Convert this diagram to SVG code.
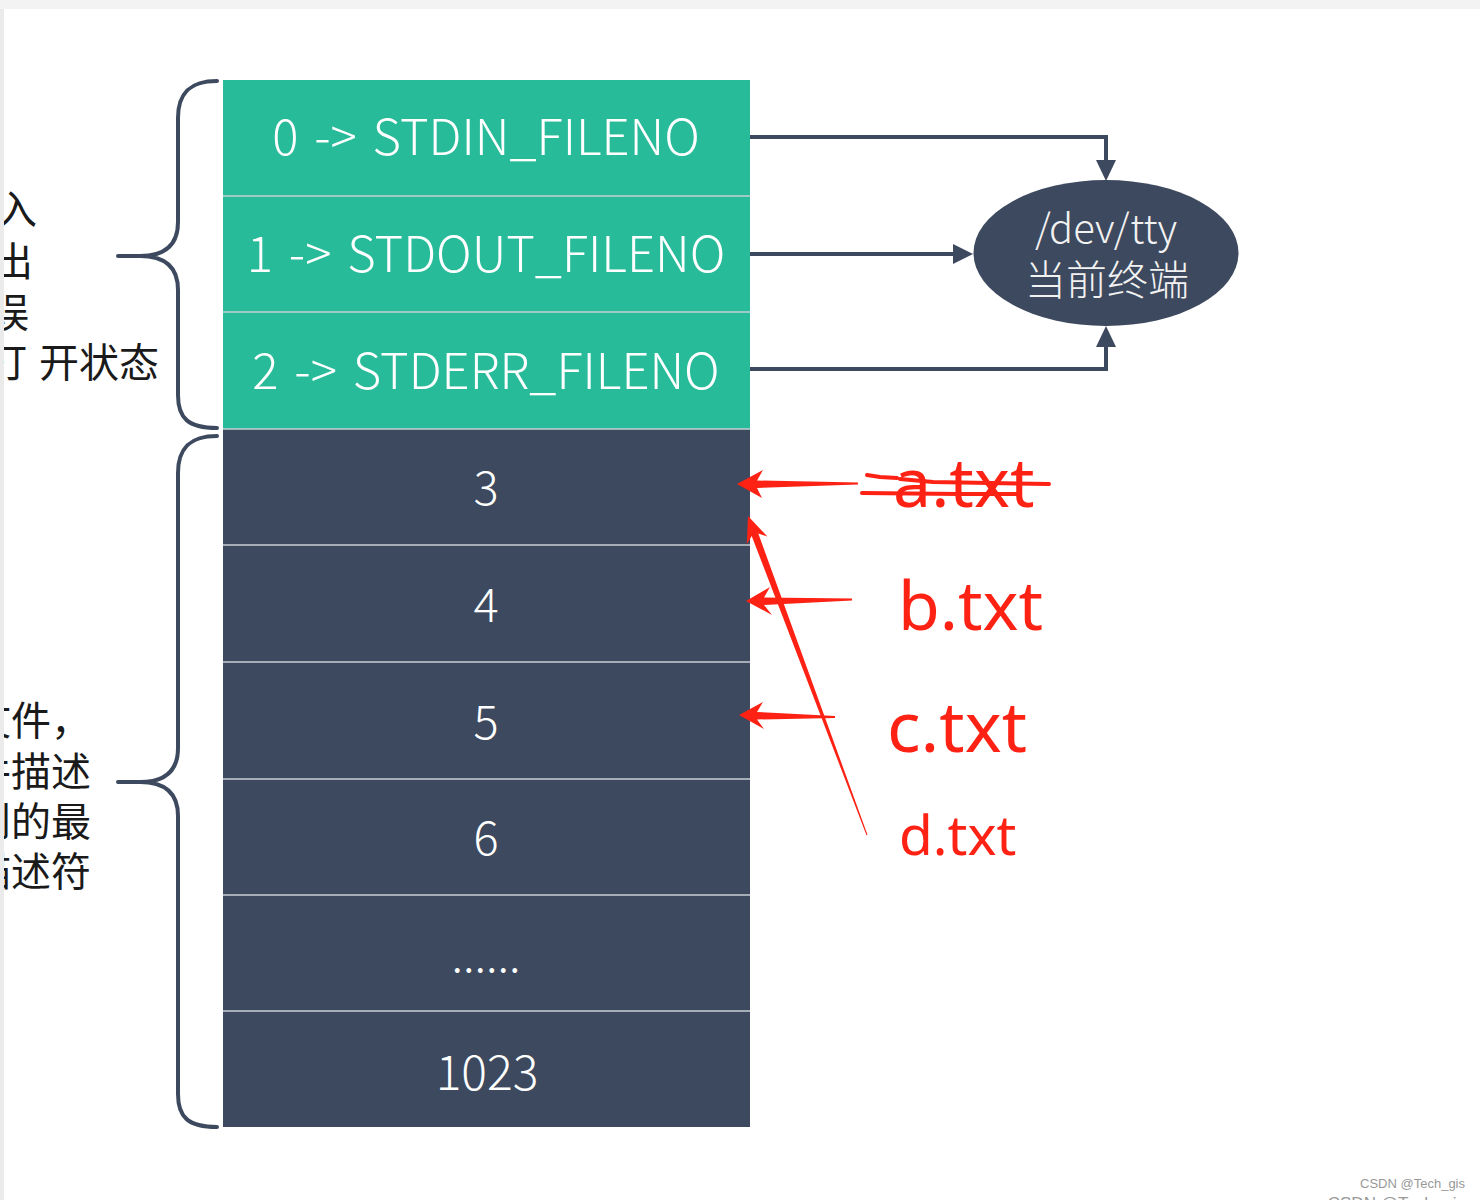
<svg xmlns="http://www.w3.org/2000/svg" width="1480" height="1200" viewBox="0 0 1480 1200">
<defs>
<style>
.cell-t{fill:#27bb9a}
.cell-d{fill:#3d495e}
.sep{stroke:#c9d0d6;stroke-width:1.5}
.lbl{font-family:"Noto Sans CJK SC","Noto Sans",sans-serif;font-weight:300;fill:#ffffff;text-anchor:middle}
.side{font-family:"Noto Sans CJK SC",sans-serif;font-size:40px;fill:#1a1a1a}
.conn{fill:none;stroke:#3d495e;stroke-width:4}
.head{fill:#3d495e}
.brace{fill:none;stroke:#3d495e;stroke-width:4;stroke-linecap:round}
.red{fill:#fd2214}
.redt{font-family:"Noto Sans","Noto Sans CJK SC",sans-serif;fill:#fd2214}
.wm{font-family:"Liberation Sans",sans-serif;fill:#999999;text-anchor:end}
</style>
</defs>
<rect x="0" y="0" width="1480" height="1200" fill="#ffffff"/>

<g id="left-labels">
<text class="side" x="-3" y="224">入</text>
<text class="side" x="-7" y="276">出</text>
<text class="side" x="-11" y="327">误</text>
<text class="side" x="-13" y="377">打</text>
<text class="side" x="39" y="377">开状态</text>
<text class="side" x="-29" y="735">文件，</text>
<text class="side" x="-29" y="786">件描述</text>
<text class="side" x="-29" y="836">到的最</text>
<text class="side" x="-29" y="886">描述符</text>
</g>

<g id="braces">
<path class="brace" d="M217,81 C188,81 178,95 178,118 L178,222 C178,245 165,256 140,256 L118,256 M140,256 C165,256 178,267 178,290 L178,395 C178,418 188,428 217,428"/>
<path class="brace" d="M217,436 C188,436 178,450 178,473 L178,748 C178,771 165,782 140,782 L118,782 M140,782 C165,782 178,793 178,816 L178,1094 C178,1117 188,1127 217,1127"/>
</g>

<g id="fd-table">
<g id="fd0"><rect class="cell-t" x="223" y="80" width="527" height="116"/><text class="lbl" x="486" y="155" font-size="49" word-spacing="5">0 -&gt; STDIN_FILENO</text></g>
<g id="fd1"><rect class="cell-t" x="223" y="196" width="527" height="116"/><text class="lbl" x="486" y="272" font-size="49" word-spacing="5">1 -&gt; STDOUT_FILENO</text></g>
<g id="fd2"><rect class="cell-t" x="223" y="312" width="527" height="117"/><text class="lbl" x="486" y="389" font-size="49" word-spacing="5">2 -&gt; STDERR_FILENO</text></g>
<g id="fd3"><rect class="cell-d" x="223" y="429" width="527" height="116"/><text class="lbl" x="486" y="505" font-size="47">3</text></g>
<g id="fd4"><rect class="cell-d" x="223" y="545" width="527" height="117"/><text class="lbl" x="486" y="622" font-size="47">4</text></g>
<g id="fd5"><rect class="cell-d" x="223" y="662" width="527" height="117"/><text class="lbl" x="486" y="739" font-size="47">5</text></g>
<g id="fd6"><rect class="cell-d" x="223" y="779" width="527" height="116"/><text class="lbl" x="486" y="855" font-size="47">6</text></g>
<g id="fd-more"><rect class="cell-d" x="223" y="895" width="527" height="116"/><text class="lbl" x="486" y="972" font-size="46">......</text></g>
<g id="fd1023"><rect class="cell-d" x="223" y="1011" width="527" height="116"/><text class="lbl" x="487" y="1090" font-size="48">1023</text></g>
<line class="sep" x1="223" y1="196" x2="750" y2="196"/>
<line class="sep" x1="223" y1="312" x2="750" y2="312"/>
<line class="sep" x1="223" y1="429" x2="750" y2="429"/>
<line class="sep" x1="223" y1="545" x2="750" y2="545"/>
<line class="sep" x1="223" y1="662" x2="750" y2="662"/>
<line class="sep" x1="223" y1="779" x2="750" y2="779"/>
<line class="sep" x1="223" y1="895" x2="750" y2="895"/>
<line class="sep" x1="223" y1="1011" x2="750" y2="1011"/>
</g>

<g id="tty">
<ellipse cx="1106" cy="253" rx="132.5" ry="73" fill="#3d495e"/>
<text x="1106" y="243" font-family="Noto Sans CJK SC, Noto Sans, sans-serif" font-weight="300" font-size="40" fill="#f2f2f2" text-anchor="middle">/dev/tty</text>
<text x="1107" y="295" font-family="Noto Sans CJK SC, sans-serif" font-weight="300" font-size="41" fill="#f2f2f2" text-anchor="middle">当前终端</text>
</g>

<g id="connectors">
<path class="conn" d="M750,137 H1106 V162"/>
<polygon class="head" points="1096,160 1116,160 1106,181"/>
<path class="conn" d="M750,254 H955"/>
<polygon class="head" points="953,244 953,264 973,254"/>
<path class="conn" d="M750,369 H1106 V346"/>
<polygon class="head" points="1096,347 1116,347 1106,326"/>
</g>

<g id="annotations">
<polygon class="red" points="737,484 763,470 757,480.5 858,482.5 858,484.5 757,488 762,498"/>
<polygon class="red" points="746,601 770,587 764,597.5 852,598.5 852,600.5 764,605 772,615"/>
<polygon class="red" points="739,715 763,702 757,712 835,716 835,718 757,719.5 764,729"/>
<polygon class="red" points="748,516 767.4,536.6 758.3,533.5 867.5,834.8 866.5,835.2 751.7,535.9 746.8,544.2"/>
<text class="redt" x="893" y="507" font-size="68">a.txt</text>
<text class="redt" x="898" y="630" font-size="68">b.txt</text>
<text class="redt" x="887" y="752" font-size="70">c.txt</text>
<text class="redt" x="899" y="855" font-size="55">d.txt</text>
<polyline fill="none" stroke="#fd2214" stroke-width="4" stroke-linecap="round" points="867,475 880,477 897,478"/>
<polyline fill="none" stroke="#fd2214" stroke-width="4" stroke-linecap="round" points="900,479 933,482 1049,484"/>
<polyline fill="none" stroke="#fd2214" stroke-width="4" stroke-linecap="round" points="862,493 960,494 1017,494"/>
</g>

<g id="frame">
<rect x="0" y="0" width="1480" height="9" fill="#f3f3f3"/>
<rect x="0" y="9" width="4" height="1191" fill="#ebebeb"/>
</g>

<g id="watermark">
<text class="wm" x="1465" y="1188" font-size="13">CSDN @Tech_gis</text>
<text class="wm" x="1465" y="1209" font-size="17">CSDN @Tech_gis</text>
</g>
</svg>
